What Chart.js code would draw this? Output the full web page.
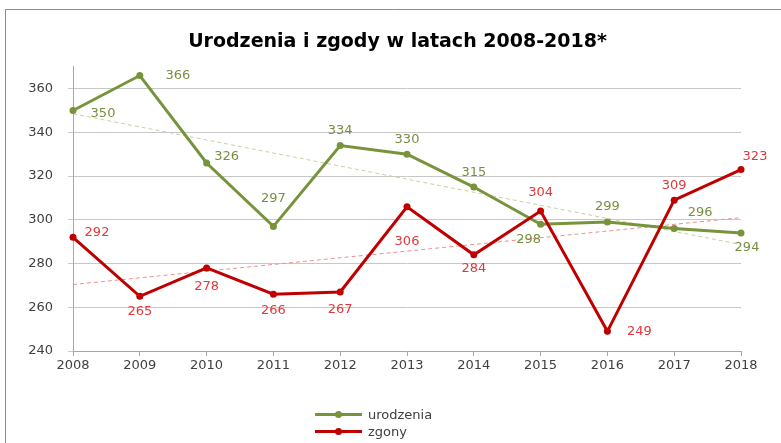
<!DOCTYPE html>
<html>
<head>
<meta charset="utf-8">
<script src="https://cdn.jsdelivr.net/npm/chart.js@4.4.0/dist/chart.umd.min.js"></script>
<style>
  html, body { margin: 0; padding: 0; background: #fff; overflow: hidden; }
  #wrap { position: relative; width: 781px; height: 443px; overflow: hidden; }
  #lineChart { position: absolute; left: 0; top: 0; }
  #legend { position: absolute; left: 315px; top: 406px; font: 13px "DejaVu Sans", sans-serif; color: #404040; }
  .item { position: relative; height: 17px; line-height: 17px; padding-left: 53px; }
  .item .ln { position: absolute; left: 0; top: 7px; width: 47px; height: 3px; }
  .item .dot { position: absolute; left: 20px; top: 5px; width: 7px; height: 7px; border-radius: 50%; }
</style>
</head>
<body>
<div id="wrap">
  <canvas id="lineChart" width="781" height="443"></canvas>
  <div id="legend"></div>
</div>
<script>
/* data */
const years = ['2008', '2009', '2010', '2011', '2012', '2013', '2014', '2015', '2016', '2017', '2018'];
const urodzenia = [350, 366, 326, 297, 334, 330, 315, 298, 299, 296, 294];
const zgony = [292, 265, 278, 266, 267, 306, 284, 304, 249, 309, 323];
// linear trend end values (2008, 2018)
const trendUrodzenia = [348.5, 288.7];
const trendZgony = [270.4, 301.0];
const yTicks = [240, 260, 280, 300, 320, 340, 360];

const green = '#77933C', red = '#C00000';
const greenLabel = '#76903f', redLabel = '#e0383c';

// label placement for each point: [dx, dy]
const posUrodzenia = [[30, 3], [38, 0], [20, -6], [0, -28], [0, -15], [0, -15], [0, -14], [-12, 15], [0, -15], [26, -16], [6, 15]];
const posZgony = [[24, -5], [0, 15], [0, 19], [0, 16], [0, 18], [0, 35], [0, 14], [0, -18], [32, 0], [0, -15], [14, -13]];

function endsOnly(pair) {
    const arr = years.map(() => null);
    arr[0] = pair[0];
    arr[arr.length - 1] = pair[1];
    return arr;
}

/* outer frame (top + left edge only, the rest is cut off) */
const framePlugin = {
    id: 'frame',
    beforeDraw(chart) {
        const ctx = chart.ctx;
        ctx.save();
        ctx.strokeStyle = '#8c8c8c';
        ctx.lineWidth = 1;
        ctx.beginPath();
        ctx.moveTo(5.5, chart.height);
        ctx.lineTo(5.5, 9.5);
        ctx.lineTo(chart.width, 9.5);
        ctx.stroke();
        ctx.restore();
    }
};

const labelPlugin = {
    id: 'pointLabels',
    afterDatasetsDraw(chart) {
        const ctx = chart.ctx;
        const sets = [[0, urodzenia, posUrodzenia, greenLabel], [1, zgony, posZgony, redLabel]];
        ctx.save();
        ctx.font = '13px "DejaVu Sans"';
        ctx.textAlign = 'center';
        ctx.textBaseline = 'middle';
        sets.forEach(([idx, vals, pos, col]) => {
            const meta = chart.getDatasetMeta(idx);
            ctx.fillStyle = col;
            meta.data.forEach((pt, i) => {
                ctx.fillText(String(vals[i]), pt.x + pos[i][0], pt.y + pos[i][1]);
            });
        });
        ctx.restore();
    }
};

const lineChart = document.getElementById('lineChart').getContext('2d');
const myChart = new Chart(lineChart, {
    type: 'line',
    data: {
        labels: years,
        datasets: [{
                label: 'urodzenia',
                data: urodzenia,
                borderColor: green,
                backgroundColor: green,
                borderWidth: 3,
                pointRadius: 3.5,
                pointBorderWidth: 0,
                tension: 0,
                order: 1
            },
            {
                label: 'zgony',
                data: zgony,
                borderColor: red,
                backgroundColor: red,
                borderWidth: 3,
                pointRadius: 3.5,
                pointBorderWidth: 0,
                tension: 0,
                order: 0
            },
            {
                label: 'trend urodzenia',
                data: endsOnly(trendUrodzenia),
                borderColor: '#c3d3a0',
                borderWidth: 1,
                borderDash: [4, 3],
                pointRadius: 0,
                spanGaps: true,
                order: 2
            },
            {
                label: 'trend zgony',
                data: endsOnly(trendZgony),
                borderColor: '#ee8e8e',
                borderWidth: 1,
                borderDash: [4, 3],
                pointRadius: 0,
                spanGaps: true,
                order: 2
            }
        ]
    },
    options: {
        responsive: false,
        animation: false,
        layout: { padding: { left: 14, right: 0, top: 0, bottom: 0 } },
        plugins: {
            legend: { display: false },
            tooltip: { enabled: false },
            title: {
                display: true,
                text: 'Urodzenia i zgody w latach 2008-2018*',
                color: '#000',
                font: { family: 'DejaVu Sans', size: 19, weight: 'bold', lineHeight: 1.2 },
                padding: { top: 31, bottom: 13 }
            }
        },
        scales: {
            x: {
                offset: false,
                grid: { drawOnChartArea: false, drawTicks: true, tickLength: 5, color: '#a6a6a6' },
                border: { color: '#a6a6a6', width: 1 },
                ticks: { color: '#404040', font: { family: 'DejaVu Sans', size: 13 }, padding: 2, maxRotation: 0 },
                afterFit(scale) { scale.height = 92; }
            },
            y: {
                min: 240,
                max: 370,
                grid: { color: '#c8c8c8', tickLength: 5 },
                border: { color: '#a6a6a6', width: 1 },
                ticks: { color: '#404040', font: { family: 'DejaVu Sans', size: 13 }, padding: 15 },
                afterBuildTicks(scale) { scale.ticks = yTicks.map(v => ({ value: v })); },
                afterFit(scale) { scale.width = 59; }
            },
            yRight: {
                position: 'right',
                display: true,
                grid: { display: false, drawTicks: false },
                border: { display: false },
                ticks: { display: false },
                afterFit(scale) { scale.width = 40; }
            }
        }
    },
    plugins: [framePlugin, labelPlugin]
});

// legend
const legend = document.getElementById('legend');
[['urodzenia', green], ['zgony', red]].forEach(([name, col]) => {
    const d = document.createElement('div');
    d.className = 'item';
    d.innerHTML = '<span class="ln" style="background:' + col + '"></span><span class="dot" style="background:' + col + '"></span>' + name;
    legend.appendChild(d);
});
</script>
</body>
</html>
